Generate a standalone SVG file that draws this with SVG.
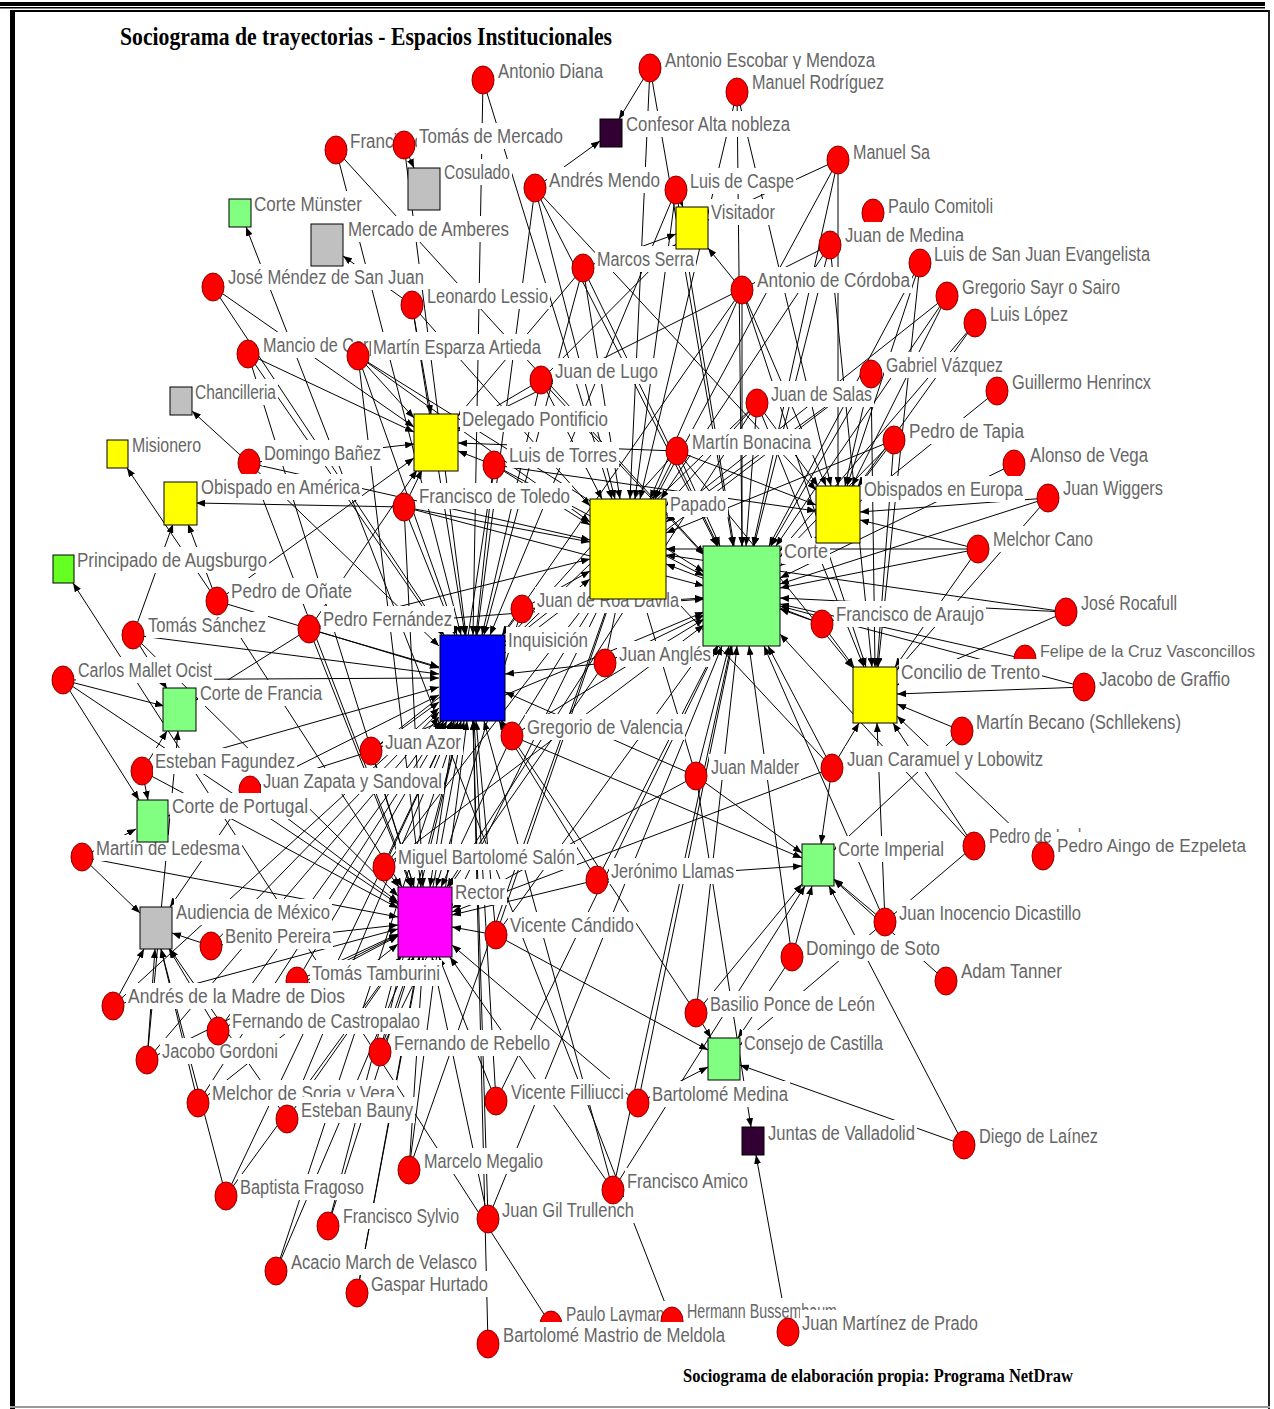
<svg xmlns="http://www.w3.org/2000/svg" width="1274" height="1409" viewBox="0 0 1274 1409">
<style>
.p{fill:#ff0000;stroke:#8b0000;stroke-width:1}
.lb{fill:#fff}
.t{font-family:"Liberation Sans",Arial,sans-serif;font-size:20px;fill:#666}
.sq{stroke:#000;stroke-width:1}
.e path{stroke:#000;stroke-width:1;fill:none;marker-end:url(#ah)}
.hd{font-family:"Liberation Serif","Times New Roman",serif;font-weight:bold;fill:#000}
</style>
<defs>
<marker id="ah" markerUnits="userSpaceOnUse" markerWidth="9" markerHeight="7" refX="9" refY="3.5" orient="auto"><path d="M0,0 L9,3.5 L0,7 Z" fill="#000"/></marker>
</defs>
<rect width="1274" height="1409" fill="#fff"/>
<g id="frame">
<rect x="0" y="2" width="1265" height="4" fill="#000"/>
<rect x="0" y="7" width="1265" height="1.5" fill="#000"/>
<rect x="10" y="10" width="5" height="1399" fill="#000"/>
<rect x="10" y="10" width="1260" height="2" fill="#000"/>
<rect x="1268" y="10" width="2" height="1399" fill="#222"/>
<rect x="10" y="1406" width="1260" height="2" fill="#999"/>
</g>
<text class="hd" x="120" y="45" font-size="26" textLength="492" lengthAdjust="spacingAndGlyphs">Sociograma de trayectorias - Espacios Institucionales</text>
<text class="hd" x="683" y="1382" font-size="18" textLength="390" lengthAdjust="spacingAndGlyphs">Sociograma de elaboración propia: Programa NetDraw</text>
<g id="edges" class="e">
<path d="M483 80L612 499"/><path d="M650 68L619 119"/><path d="M650 68L733 546"/><path d="M737 92L640 499"/><path d="M737 92L742 546"/>
<path d="M336 150L704 554"/><path d="M336 150L461 635"/><path d="M404 145L414 168"/><path d="M404 145L466 635"/>
<path d="M535 188L600 141"/><path d="M535 188L477 635"/><path d="M535 188L717 546"/><path d="M535 188L816 490"/>
<path d="M676 190L683 207"/><path d="M676 190L635 499"/><path d="M676 190L734 546"/>
<path d="M838 160L708 220"/><path d="M838 160L655 499"/><path d="M830 245L754 546"/><path d="M830 245L458 431"/>
<path d="M742 290L708 248"/><path d="M742 290L742 546"/><path d="M742 290L650 499"/>
<path d="M920 263L847 486"/><path d="M920 263L769 546"/><path d="M947 296L666 519"/><path d="M947 296L776 546"/><path d="M975 323L780 551"/>
<path d="M583 268L676 234"/><path d="M583 268L484 635"/><path d="M583 268L620 499"/><path d="M583 268L718 546"/>
<path d="M412 305L343 256"/><path d="M412 305L465 635"/><path d="M412 305L431 414"/><path d="M213 287L444 635"/>
<path d="M248 354L442 635"/><path d="M248 354L414 887"/>
<path d="M358 356L414 418"/><path d="M358 356L457 635"/><path d="M358 356L590 522"/><path d="M358 356L704 572"/>
<path d="M541 380L458 429"/><path d="M541 380L602 499"/><path d="M541 380L676 244"/><path d="M541 380L482 635"/>
<path d="M249 463L192 411"/><path d="M249 463L414 444"/><path d="M249 463L439 646"/><path d="M249 463L590 540"/>
<path d="M404 507L196 503"/><path d="M404 507L590 542"/><path d="M404 507L455 635"/><path d="M404 507L704 586"/><path d="M404 507L423 887"/>
<path d="M494 465L458 451"/><path d="M494 465L590 525"/><path d="M494 465L476 635"/><path d="M494 465L704 576"/><path d="M494 465L430 887"/>
<path d="M757 403L666 506"/><path d="M757 403L746 546"/><path d="M757 403L818 486"/><path d="M757 403L505 646"/>
<path d="M677 451L458 443"/><path d="M677 451L816 505"/><path d="M677 451L720 546"/><path d="M677 451L653 499"/><path d="M677 451L505 642"/>
<path d="M871 374L771 546"/><path d="M871 374L666 522"/><path d="M871 374L845 486"/><path d="M871 374L505 653"/>
<path d="M997 391L780 566"/><path d="M894 440L859 486"/><path d="M894 440L780 557"/><path d="M894 440L666 533"/>
<path d="M1014 464L780 578"/><path d="M1048 498L780 584"/><path d="M1048 498L860 512"/>
<path d="M978 549L780 588"/><path d="M978 549L666 549"/><path d="M978 549L860 520"/>
<path d="M1066 612L780 598"/><path d="M1066 612L897 685"/><path d="M1025 659L780 604"/>
<path d="M822 624L780 609"/><path d="M822 624L854 667"/><path d="M1084 687L897 694"/><path d="M1084 687L780 606"/>
<path d="M962 731L897 704"/><path d="M962 731L834 850"/>
<path d="M832 768L859 723"/><path d="M832 768L768 646"/><path d="M832 768L821 844"/><path d="M832 768L452 912"/>
<path d="M974 846L893 723"/><path d="M974 846L740 1045"/><path d="M1043 856L897 716"/>
<path d="M885 922L834 879"/><path d="M885 922L764 646"/><path d="M792 957L812 886"/><path d="M792 957L749 646"/>
<path d="M946 981L834 880"/><path d="M964 1145L829 886"/>
<path d="M696 1013L711 1038"/><path d="M696 1013L737 646"/><path d="M696 1013L802 884"/>
<path d="M638 1103L708 1067"/><path d="M638 1103L732 646"/><path d="M788 1332L756 1155"/>
<path d="M696 776L643 599"/><path d="M696 776L452 908"/><path d="M696 776L751 1127"/><path d="M696 776L729 646"/><path d="M696 776L505 692"/>
<path d="M605 663L505 674"/><path d="M605 663L618 599"/><path d="M605 663L704 615"/>
<path d="M522 609L590 571"/><path d="M522 609L503 635"/><path d="M522 609L704 598"/>
<path d="M512 736L502 721"/><path d="M512 736L597 599"/><path d="M512 736L704 619"/><path d="M512 736L441 887"/>
<path d="M371 751L439 702"/><path d="M371 751L414 887"/><path d="M371 751L168 816"/><path d="M371 751L590 579"/>
<path d="M597 880L717 646"/><path d="M597 880L499 721"/><path d="M597 880L452 915"/>
<path d="M496 935L452 927"/><path d="M496 935L476 721"/><path d="M496 935L706 646"/><path d="M496 935L611 599"/>
<path d="M384 867L399 887"/><path d="M384 867L452 721"/><path d="M384 867L590 599"/>
<path d="M217 601L188 524"/><path d="M217 601L127 468"/><path d="M217 601L439 668"/><path d="M217 601L414 458"/>
<path d="M133 635L173 524"/><path d="M133 635L167 689"/><path d="M133 635L398 896"/>
<path d="M309 629L439 667"/><path d="M309 629L196 700"/><path d="M309 629L590 559"/><path d="M309 629L417 470"/><path d="M309 629L411 887"/>
<path d="M63 680L164 706"/><path d="M63 680L139 800"/><path d="M63 680L439 678"/><path d="M63 680L398 904"/>
<path d="M142 771L148 800"/><path d="M142 771L167 731"/><path d="M142 771L439 687"/>
<path d="M250 790L398 902"/><path d="M250 790L170 907"/><path d="M250 790L439 695"/>
<path d="M82 857L136 829"/><path d="M82 857L140 913"/>
<path d="M211 946L398 925"/><path d="M211 946L439 712"/><path d="M297 981L398 934"/><path d="M297 981L447 721"/>
<path d="M113 1006L144 949"/><path d="M113 1006L398 929"/><path d="M218 1031L398 936"/><path d="M218 1031L169 949"/>
<path d="M147 1060L155 949"/><path d="M147 1060L178 731"/><path d="M147 1060L398 935"/>
<path d="M198 1103L161 949"/><path d="M198 1103L398 944"/><path d="M287 1119L401 957"/><path d="M287 1119L454 721"/>
<path d="M380 1052L413 957"/><path d="M380 1052L461 721"/><path d="M496 1101L439 957"/><path d="M496 1101L474 721"/>
<path d="M226 1196L452 721"/><path d="M226 1196L400 957"/><path d="M409 1170L423 957"/><path d="M409 1170L467 721"/>
<path d="M613 1190L450 957"/><path d="M613 1190L805 886"/><path d="M613 1190L484 721"/>
<path d="M328 1226L414 957"/><path d="M328 1226L461 721"/><path d="M488 1219L432 957"/><path d="M488 1219L473 721"/>
<path d="M276 1271L410 957"/><path d="M357 1293L419 957"/>
<path d="M551 1325L73 583"/><path d="M672 1321L246 227"/><path d="M488 1344L473 721"/>
<path d="M483 80L473 635"/><path d="M650 68L630 499"/><path d="M737 92L831 486"/><path d="M676 190L490 635"/>
<path d="M838 160L753 546"/><path d="M838 160L838 486"/><path d="M742 290L826 486"/><path d="M742 290L502 635"/><path d="M742 290L866 667"/>
<path d="M830 245L661 499"/><path d="M830 245L872 667"/><path d="M920 263L878 667"/><path d="M947 296L852 486"/><path d="M975 323L858 486"/>
<path d="M757 403L447 887"/><path d="M757 403L864 667"/><path d="M677 451L853 668"/><path d="M871 374L875 667"/><path d="M894 440L877 667"/>
<path d="M605 663L449 887"/><path d="M522 609L436 887"/><path d="M512 736L802 858"/><path d="M696 776L802 853"/><path d="M597 880L802 866"/>
<path d="M496 935L708 1050"/><path d="M384 867L704 625"/><path d="M217 601L402 887"/><path d="M133 635L439 674"/><path d="M309 629L704 599"/>
<path d="M142 771L398 908"/><path d="M82 857L398 917"/><path d="M211 946L172 933"/><path d="M113 1006L439 708"/><path d="M147 1060L439 717"/>
<path d="M198 1103L444 721"/><path d="M218 1031L441 721"/><path d="M287 1119L170 949"/><path d="M380 1052L603 599"/><path d="M496 1101L718 646"/>
<path d="M409 1170L610 599"/><path d="M276 1271L458 721"/><path d="M357 1293L464 721"/><path d="M488 1219L722 646"/><path d="M226 1196L161 949"/>
<path d="M371 751L704 612"/><path d="M404 507L422 470"/><path d="M358 356L421 887"/><path d="M412 305L590 506"/><path d="M213 287L414 427"/>
<path d="M248 354L414 432"/><path d="M249 463L412 887"/><path d="M535 188L615 499"/><path d="M583 268L458 416"/><path d="M541 380L704 555"/>
<path d="M494 465L816 511"/><path d="M1048 498L897 670"/><path d="M978 549L895 667"/><path d="M822 624L666 564"/><path d="M1066 612L666 555"/>
<path d="M832 768L666 590"/><path d="M974 846L780 634"/><path d="M885 922L877 723"/><path d="M792 957L738 1038"/><path d="M696 1013L501 721"/>
<path d="M638 1103L452 945"/><path d="M613 1190L731 646"/><path d="M964 1145L740 1065"/>
</g>
<g id="persons">
<g id="n-antonio-diana"><ellipse class="p" cx="483" cy="80" rx="11" ry="14"/><rect class="lb" x="496" y="58" width="109" height="26"/><text class="t" x="498" y="78" textLength="105" lengthAdjust="spacingAndGlyphs">Antonio Diana</text></g>
<g id="n-antonio-escobar"><ellipse class="p" cx="650" cy="68" rx="11" ry="14"/><rect class="lb" x="663" y="47" width="214" height="26"/><text class="t" x="665" y="67" textLength="210" lengthAdjust="spacingAndGlyphs">Antonio Escobar y Mendoza</text></g>
<g id="n-manuel-rodriguez"><ellipse class="p" cx="737" cy="92" rx="11" ry="14"/><rect class="lb" x="750" y="69" width="136" height="26"/><text class="t" x="752" y="89" textLength="132" lengthAdjust="spacingAndGlyphs">Manuel Rodríguez</text></g>
<g id="n-francisco-vitoria"><ellipse class="p" cx="336" cy="150" rx="11" ry="14"/><rect class="lb" x="348" y="128" width="154" height="26"/><text class="t" x="350" y="148" textLength="150" lengthAdjust="spacingAndGlyphs">Francisco de Vitoria</text></g>
<g id="n-tomas-mercado"><ellipse class="p" cx="404" cy="145" rx="11" ry="14"/><rect class="lb" x="417" y="123" width="148" height="26"/><text class="t" x="419" y="143" textLength="144" lengthAdjust="spacingAndGlyphs">Tomás de Mercado</text></g>
<g id="n-andres-mendo"><ellipse class="p" cx="535" cy="188" rx="11" ry="14"/><rect class="lb" x="547" y="167" width="115" height="26"/><text class="t" x="549" y="187" textLength="111" lengthAdjust="spacingAndGlyphs">Andrés Mendo</text></g>
<g id="n-luis-caspe"><ellipse class="p" cx="676" cy="190" rx="11" ry="14"/><rect class="lb" x="688" y="168" width="108" height="26"/><text class="t" x="690" y="188" textLength="104" lengthAdjust="spacingAndGlyphs">Luis de Caspe</text></g>
<g id="n-manuel-sa"><ellipse class="p" cx="838" cy="160" rx="11" ry="14"/><rect class="lb" x="851" y="139" width="81" height="26"/><text class="t" x="853" y="159" textLength="77" lengthAdjust="spacingAndGlyphs">Manuel Sa</text></g>
<g id="n-paulo-comitoli"><ellipse class="p" cx="873" cy="213" rx="11" ry="14"/><rect class="lb" x="886" y="193" width="109" height="26"/><text class="t" x="888" y="213" textLength="105" lengthAdjust="spacingAndGlyphs">Paulo Comitoli</text></g>
<g id="n-juan-medina"><ellipse class="p" cx="830" cy="245" rx="11" ry="14"/><rect class="lb" x="843" y="222" width="123" height="26"/><text class="t" x="845" y="242" textLength="119" lengthAdjust="spacingAndGlyphs">Juan de Medina</text></g>
<g id="n-antonio-cordoba"><ellipse class="p" cx="742" cy="290" rx="11" ry="14"/><rect class="lb" x="755" y="267" width="157" height="26"/><text class="t" x="757" y="287" textLength="153" lengthAdjust="spacingAndGlyphs">Antonio de Córdoba</text></g>
<g id="n-luis-san-juan"><ellipse class="p" cx="920" cy="263" rx="11" ry="14"/><rect class="lb" x="932" y="241" width="220" height="26"/><text class="t" x="934" y="261" textLength="216" lengthAdjust="spacingAndGlyphs">Luis de San Juan Evangelista</text></g>
<g id="n-gregorio-sayr"><ellipse class="p" cx="947" cy="296" rx="11" ry="14"/><rect class="lb" x="960" y="274" width="162" height="26"/><text class="t" x="962" y="294" textLength="158" lengthAdjust="spacingAndGlyphs">Gregorio Sayr o Sairo</text></g>
<g id="n-luis-lopez"><ellipse class="p" cx="975" cy="323" rx="11" ry="14"/><rect class="lb" x="988" y="301" width="82" height="26"/><text class="t" x="990" y="321" textLength="78" lengthAdjust="spacingAndGlyphs">Luis López</text></g>
<g id="n-marcos-serra"><ellipse class="p" cx="583" cy="268" rx="11" ry="14"/><rect class="lb" x="595" y="246" width="101" height="26"/><text class="t" x="597" y="266" textLength="97" lengthAdjust="spacingAndGlyphs">Marcos Serra</text></g>
<g id="n-leonardo-lessio"><ellipse class="p" cx="412" cy="305" rx="11" ry="14"/><rect class="lb" x="425" y="283" width="125" height="26"/><text class="t" x="427" y="303" textLength="121" lengthAdjust="spacingAndGlyphs">Leonardo Lessio</text></g>
<g id="n-jose-mendez"><ellipse class="p" cx="213" cy="287" rx="11" ry="14"/><rect class="lb" x="226" y="264" width="200" height="26"/><text class="t" x="228" y="284" textLength="196" lengthAdjust="spacingAndGlyphs">José Méndez de San Juan</text></g>
<g id="n-mancio"><ellipse class="p" cx="248" cy="354" rx="11" ry="14"/><rect class="lb" x="261" y="332" width="186" height="26"/><text class="t" x="263" y="352" textLength="182" lengthAdjust="spacingAndGlyphs">Mancio de Corpus Christi</text></g>
<g id="n-martin-esparza"><ellipse class="p" cx="358" cy="356" rx="11" ry="14"/><rect class="lb" x="371" y="334" width="172" height="26"/><text class="t" x="373" y="354" textLength="168" lengthAdjust="spacingAndGlyphs">Martín Esparza Artieda</text></g>
<g id="n-juan-lugo"><ellipse class="p" cx="541" cy="380" rx="11" ry="14"/><rect class="lb" x="553" y="358" width="107" height="26"/><text class="t" x="555" y="378" textLength="103" lengthAdjust="spacingAndGlyphs">Juan de Lugo</text></g>
<g id="n-domingo-banez"><ellipse class="p" cx="249" cy="463" rx="11" ry="14"/><rect class="lb" x="262" y="440" width="121" height="26"/><text class="t" x="264" y="460" textLength="117" lengthAdjust="spacingAndGlyphs">Domingo Bañez</text></g>
<g id="n-francisco-toledo"><ellipse class="p" cx="404" cy="507" rx="11" ry="14"/><rect class="lb" x="417" y="483" width="155" height="26"/><text class="t" x="419" y="503" textLength="151" lengthAdjust="spacingAndGlyphs">Francisco de Toledo</text></g>
<g id="n-luis-torres"><ellipse class="p" cx="494" cy="465" rx="11" ry="14"/><rect class="lb" x="507" y="442" width="112" height="26"/><text class="t" x="509" y="462" textLength="108" lengthAdjust="spacingAndGlyphs">Luis de Torres</text></g>
<g id="n-juan-salas"><ellipse class="p" cx="757" cy="403" rx="11" ry="14"/><rect class="lb" x="769" y="381" width="105" height="26"/><text class="t" x="771" y="401" textLength="101" lengthAdjust="spacingAndGlyphs">Juan de Salas</text></g>
<g id="n-martin-bonacina"><ellipse class="p" cx="677" cy="451" rx="11" ry="14"/><rect class="lb" x="690" y="429" width="123" height="26"/><text class="t" x="692" y="449" textLength="119" lengthAdjust="spacingAndGlyphs">Martín Bonacina</text></g>
<g id="n-gabriel-vazquez"><ellipse class="p" cx="871" cy="374" rx="11" ry="14"/><rect class="lb" x="884" y="352" width="121" height="26"/><text class="t" x="886" y="372" textLength="117" lengthAdjust="spacingAndGlyphs">Gabriel Vázquez</text></g>
<g id="n-guillermo"><ellipse class="p" cx="997" cy="391" rx="11" ry="14"/><rect class="lb" x="1010" y="369" width="143" height="26"/><text class="t" x="1012" y="389" textLength="139" lengthAdjust="spacingAndGlyphs">Guillermo Henrincx</text></g>
<g id="n-pedro-tapia"><ellipse class="p" cx="894" cy="440" rx="11" ry="14"/><rect class="lb" x="907" y="418" width="119" height="26"/><text class="t" x="909" y="438" textLength="115" lengthAdjust="spacingAndGlyphs">Pedro de Tapia</text></g>
<g id="n-alonso-vega"><ellipse class="p" cx="1014" cy="464" rx="11" ry="14"/><rect class="lb" x="1028" y="442" width="122" height="26"/><text class="t" x="1030" y="462" textLength="118" lengthAdjust="spacingAndGlyphs">Alonso de Vega</text></g>
<g id="n-juan-wiggers"><ellipse class="p" cx="1048" cy="498" rx="11" ry="14"/><rect class="lb" x="1061" y="475" width="104" height="26"/><text class="t" x="1063" y="495" textLength="100" lengthAdjust="spacingAndGlyphs">Juan Wiggers</text></g>
<g id="n-melchor-cano"><ellipse class="p" cx="978" cy="549" rx="11" ry="14"/><rect class="lb" x="991" y="526" width="104" height="26"/><text class="t" x="993" y="546" textLength="100" lengthAdjust="spacingAndGlyphs">Melchor Cano</text></g>
<g id="n-jose-rocafull"><ellipse class="p" cx="1066" cy="612" rx="11" ry="14"/><rect class="lb" x="1079" y="590" width="100" height="26"/><text class="t" x="1081" y="610" textLength="96" lengthAdjust="spacingAndGlyphs">José Rocafull</text></g>
<g id="n-felipe"><ellipse class="p" cx="1025" cy="659" rx="11" ry="14"/><rect class="lb" x="1038" y="637" width="219" height="26"/><text class="t" x="1040" y="657" style="font-size:16px" textLength="215" lengthAdjust="spacingAndGlyphs">Felipe de la Cruz Vasconcillos</text></g>
<g id="n-francisco-araujo"><ellipse class="p" cx="822" cy="624" rx="11" ry="14"/><rect class="lb" x="834" y="601" width="152" height="26"/><text class="t" x="836" y="621" textLength="148" lengthAdjust="spacingAndGlyphs">Francisco de Araujo</text></g>
<g id="n-jacobo-graffio"><ellipse class="p" cx="1084" cy="687" rx="11" ry="14"/><rect class="lb" x="1097" y="666" width="135" height="26"/><text class="t" x="1099" y="686" textLength="131" lengthAdjust="spacingAndGlyphs">Jacobo de Graffio</text></g>
<g id="n-martin-becano"><ellipse class="p" cx="962" cy="731" rx="11" ry="14"/><rect class="lb" x="974" y="709" width="209" height="26"/><text class="t" x="976" y="729" textLength="205" lengthAdjust="spacingAndGlyphs">Martín Becano (Schllekens)</text></g>
<g id="n-juan-caramuel"><ellipse class="p" cx="832" cy="768" rx="11" ry="14"/><rect class="lb" x="845" y="746" width="200" height="26"/><text class="t" x="847" y="766" textLength="196" lengthAdjust="spacingAndGlyphs">Juan Caramuel y Lobowitz</text></g>
<g id="n-pedro-ledesma"><ellipse class="p" cx="974" cy="846" rx="11" ry="14"/><rect class="lb" x="987" y="823" width="134" height="26"/><text class="t" x="989" y="843" textLength="130" lengthAdjust="spacingAndGlyphs">Pedro de Ledesma</text></g>
<g id="n-pedro-aingo"><ellipse class="p" cx="1043" cy="856" rx="11" ry="14"/><rect class="lb" x="1055" y="832" width="193" height="26"/><text class="t" x="1057" y="852" style="font-size:17.5px" textLength="189" lengthAdjust="spacingAndGlyphs">Pedro Aingo de Ezpeleta</text></g>
<g id="n-domingo-soto"><ellipse class="p" cx="792" cy="957" rx="11" ry="14"/><rect class="lb" x="804" y="935" width="138" height="26"/><text class="t" x="806" y="955" textLength="134" lengthAdjust="spacingAndGlyphs">Domingo de Soto</text></g>
<g id="n-juan-inocencio"><ellipse class="p" cx="885" cy="922" rx="11" ry="14"/><rect class="lb" x="897" y="900" width="186" height="26"/><text class="t" x="899" y="920" textLength="182" lengthAdjust="spacingAndGlyphs">Juan Inocencio Dicastillo</text></g>
<g id="n-adam-tanner"><ellipse class="p" cx="946" cy="981" rx="11" ry="14"/><rect class="lb" x="959" y="958" width="105" height="26"/><text class="t" x="961" y="978" textLength="101" lengthAdjust="spacingAndGlyphs">Adam Tanner</text></g>
<g id="n-diego-lainez"><ellipse class="p" cx="964" cy="1145" rx="11" ry="14"/><rect class="lb" x="977" y="1123" width="123" height="26"/><text class="t" x="979" y="1143" textLength="119" lengthAdjust="spacingAndGlyphs">Diego de Laínez</text></g>
<g id="n-basilio-ponce"><ellipse class="p" cx="696" cy="1013" rx="11" ry="14"/><rect class="lb" x="708" y="991" width="169" height="26"/><text class="t" x="710" y="1011" textLength="165" lengthAdjust="spacingAndGlyphs">Basilio Ponce de León</text></g>
<g id="n-bartolome-medina"><ellipse class="p" cx="638" cy="1103" rx="11" ry="14"/><rect class="lb" x="650" y="1081" width="140" height="26"/><text class="t" x="652" y="1101" textLength="136" lengthAdjust="spacingAndGlyphs">Bartolomé Medina</text></g>
<g id="n-paulo-laymann"><ellipse class="p" cx="551" cy="1325" rx="11" ry="14"/><rect class="lb" x="564" y="1301" width="111" height="26"/><text class="t" x="566" y="1321" textLength="107" lengthAdjust="spacingAndGlyphs">Paulo Laymann</text></g>
<g id="n-hermann"><ellipse class="p" cx="672" cy="1321" rx="11" ry="14"/><rect class="lb" x="685" y="1298" width="154" height="26"/><text class="t" x="687" y="1318" textLength="150" lengthAdjust="spacingAndGlyphs">Hermann Bussembaum</text></g>
<g id="n-juan-martinez-prado"><ellipse class="p" cx="788" cy="1332" rx="11" ry="14"/><rect class="lb" x="800" y="1310" width="180" height="26"/><text class="t" x="802" y="1330" textLength="176" lengthAdjust="spacingAndGlyphs">Juan Martínez de Prado</text></g>
<g id="n-juan-malder"><ellipse class="p" cx="696" cy="776" rx="11" ry="14"/><rect class="lb" x="709" y="754" width="92" height="26"/><text class="t" x="711" y="774" textLength="88" lengthAdjust="spacingAndGlyphs">Juan Malder</text></g>
<g id="n-juan-angles"><ellipse class="p" cx="605" cy="663" rx="11" ry="14"/><rect class="lb" x="617" y="641" width="96" height="26"/><text class="t" x="619" y="661" textLength="92" lengthAdjust="spacingAndGlyphs">Juan Anglés</text></g>
<g id="n-juan-roa"><ellipse class="p" cx="522" cy="609" rx="11" ry="14"/><rect class="lb" x="535" y="587" width="146" height="26"/><text class="t" x="537" y="607" textLength="142" lengthAdjust="spacingAndGlyphs">Juan de Roa Dávila</text></g>
<g id="n-gregorio-valencia"><ellipse class="p" cx="512" cy="736" rx="11" ry="14"/><rect class="lb" x="525" y="714" width="160" height="26"/><text class="t" x="527" y="734" textLength="156" lengthAdjust="spacingAndGlyphs">Gregorio de Valencia</text></g>
<g id="n-juan-azor"><ellipse class="p" cx="371" cy="751" rx="11" ry="14"/><rect class="lb" x="383" y="729" width="80" height="26"/><text class="t" x="385" y="749" textLength="76" lengthAdjust="spacingAndGlyphs">Juan Azor</text></g>
<g id="n-jeronimo-llamas"><ellipse class="p" cx="597" cy="880" rx="11" ry="14"/><rect class="lb" x="609" y="858" width="127" height="26"/><text class="t" x="611" y="878" textLength="123" lengthAdjust="spacingAndGlyphs">Jerónimo Llamas</text></g>
<g id="n-vicente-candido"><ellipse class="p" cx="496" cy="935" rx="11" ry="14"/><rect class="lb" x="508" y="912" width="128" height="26"/><text class="t" x="510" y="932" textLength="124" lengthAdjust="spacingAndGlyphs">Vicente Cándido</text></g>
<g id="n-miguel-salon"><ellipse class="p" cx="384" cy="867" rx="11" ry="14"/><rect class="lb" x="396" y="844" width="181" height="26"/><text class="t" x="398" y="864" textLength="177" lengthAdjust="spacingAndGlyphs">Miguel Bartolomé Salón</text></g>
<g id="n-tomas-sanchez"><ellipse class="p" cx="133" cy="635" rx="11" ry="14"/><rect class="lb" x="146" y="612" width="122" height="26"/><text class="t" x="148" y="632" textLength="118" lengthAdjust="spacingAndGlyphs">Tomás Sánchez</text></g>
<g id="n-pedro-onate"><ellipse class="p" cx="217" cy="601" rx="11" ry="14"/><rect class="lb" x="229" y="578" width="125" height="26"/><text class="t" x="231" y="598" textLength="121" lengthAdjust="spacingAndGlyphs">Pedro de Oñate</text></g>
<g id="n-pedro-fernandez"><ellipse class="p" cx="309" cy="629" rx="11" ry="14"/><rect class="lb" x="321" y="606" width="133" height="26"/><text class="t" x="323" y="626" textLength="129" lengthAdjust="spacingAndGlyphs">Pedro Fernández</text></g>
<g id="n-carlos-mallet"><ellipse class="p" cx="63" cy="680" rx="11" ry="14"/><rect class="lb" x="76" y="657" width="138" height="26"/><text class="t" x="78" y="677" textLength="134" lengthAdjust="spacingAndGlyphs">Carlos Mallet Ocist</text></g>
<g id="n-esteban-fagundez"><ellipse class="p" cx="142" cy="771" rx="11" ry="14"/><rect class="lb" x="153" y="748" width="144" height="26"/><text class="t" x="155" y="768" textLength="140" lengthAdjust="spacingAndGlyphs">Esteban Fagundez</text></g>
<g id="n-juan-zapata"><ellipse class="p" cx="250" cy="790" rx="11" ry="14"/><rect class="lb" x="261" y="768" width="183" height="26"/><text class="t" x="263" y="788" textLength="179" lengthAdjust="spacingAndGlyphs">Juan Zapata y Sandoval</text></g>
<g id="n-martin-ledesma"><ellipse class="p" cx="82" cy="857" rx="11" ry="14"/><rect class="lb" x="94" y="835" width="148" height="26"/><text class="t" x="96" y="855" textLength="144" lengthAdjust="spacingAndGlyphs">Martín de Ledesma</text></g>
<g id="n-benito-pereira"><ellipse class="p" cx="211" cy="946" rx="11" ry="14"/><rect class="lb" x="223" y="923" width="110" height="26"/><text class="t" x="225" y="943" textLength="106" lengthAdjust="spacingAndGlyphs">Benito Pereira</text></g>
<g id="n-tomas-tamburini"><ellipse class="p" cx="297" cy="981" rx="11" ry="14"/><rect class="lb" x="310" y="960" width="132" height="26"/><text class="t" x="312" y="980" textLength="128" lengthAdjust="spacingAndGlyphs">Tomás Tamburini</text></g>
<g id="n-andres-madre"><ellipse class="p" cx="113" cy="1006" rx="11" ry="14"/><rect class="lb" x="126" y="983" width="221" height="26"/><text class="t" x="128" y="1003" textLength="217" lengthAdjust="spacingAndGlyphs">Andrés de la Madre de Dios</text></g>
<g id="n-jacobo-gordoni"><ellipse class="p" cx="147" cy="1060" rx="11" ry="14"/><rect class="lb" x="160" y="1038" width="120" height="26"/><text class="t" x="162" y="1058" textLength="116" lengthAdjust="spacingAndGlyphs">Jacobo Gordoni</text></g>
<g id="n-fernando-castropalao"><ellipse class="p" cx="218" cy="1031" rx="11" ry="14"/><rect class="lb" x="230" y="1008" width="192" height="26"/><text class="t" x="232" y="1028" textLength="188" lengthAdjust="spacingAndGlyphs">Fernando de Castropalao</text></g>
<g id="n-melchor-soria"><ellipse class="p" cx="198" cy="1103" rx="11" ry="14"/><rect class="lb" x="210" y="1080" width="187" height="26"/><text class="t" x="212" y="1100" textLength="183" lengthAdjust="spacingAndGlyphs">Melchor de Soria y Vera</text></g>
<g id="n-esteban-bauny"><ellipse class="p" cx="287" cy="1119" rx="11" ry="14"/><rect class="lb" x="299" y="1097" width="116" height="26"/><text class="t" x="301" y="1117" textLength="112" lengthAdjust="spacingAndGlyphs">Esteban Bauny</text></g>
<g id="n-fernando-rebello"><ellipse class="p" cx="380" cy="1052" rx="11" ry="14"/><rect class="lb" x="392" y="1030" width="160" height="26"/><text class="t" x="394" y="1050" textLength="156" lengthAdjust="spacingAndGlyphs">Fernando de Rebello</text></g>
<g id="n-vicente-filliucci"><ellipse class="p" cx="496" cy="1101" rx="11" ry="14"/><rect class="lb" x="509" y="1079" width="117" height="26"/><text class="t" x="511" y="1099" textLength="113" lengthAdjust="spacingAndGlyphs">Vicente Filliucci</text></g>
<g id="n-baptista-fragoso"><ellipse class="p" cx="226" cy="1196" rx="11" ry="14"/><rect class="lb" x="238" y="1174" width="128" height="26"/><text class="t" x="240" y="1194" textLength="124" lengthAdjust="spacingAndGlyphs">Baptista Fragoso</text></g>
<g id="n-marcelo-megalio"><ellipse class="p" cx="409" cy="1170" rx="11" ry="14"/><rect class="lb" x="422" y="1148" width="123" height="26"/><text class="t" x="424" y="1168" textLength="119" lengthAdjust="spacingAndGlyphs">Marcelo Megalio</text></g>
<g id="n-juan-gil"><ellipse class="p" cx="488" cy="1219" rx="11" ry="14"/><rect class="lb" x="500" y="1197" width="136" height="26"/><text class="t" x="502" y="1217" textLength="132" lengthAdjust="spacingAndGlyphs">Juan Gil Trullench</text></g>
<g id="n-francisco-amico"><ellipse class="p" cx="613" cy="1190" rx="11" ry="14"/><rect class="lb" x="625" y="1168" width="125" height="26"/><text class="t" x="627" y="1188" textLength="121" lengthAdjust="spacingAndGlyphs">Francisco Amico</text></g>
<g id="n-francisco-sylvio"><ellipse class="p" cx="328" cy="1226" rx="11" ry="14"/><rect class="lb" x="341" y="1203" width="120" height="26"/><text class="t" x="343" y="1223" textLength="116" lengthAdjust="spacingAndGlyphs">Francisco Sylvio</text></g>
<g id="n-acacio-march"><ellipse class="p" cx="276" cy="1271" rx="11" ry="14"/><rect class="lb" x="289" y="1249" width="190" height="26"/><text class="t" x="291" y="1269" textLength="186" lengthAdjust="spacingAndGlyphs">Acacio March de Velasco</text></g>
<g id="n-gaspar-hurtado"><ellipse class="p" cx="357" cy="1293" rx="11" ry="14"/><rect class="lb" x="369" y="1271" width="121" height="26"/><text class="t" x="371" y="1291" textLength="117" lengthAdjust="spacingAndGlyphs">Gaspar Hurtado</text></g>
<g id="n-bartolome-mastrio"><ellipse class="p" cx="488" cy="1344" rx="11" ry="14"/><rect class="lb" x="501" y="1322" width="226" height="26"/><text class="t" x="503" y="1342" textLength="222" lengthAdjust="spacingAndGlyphs">Bartolomé Mastrio de Meldola</text></g>
</g>
<g id="institutions">
<g id="n-papado"><rect class="sq" x="590" y="499" width="76" height="100" fill="#ffff00"/><rect class="lb" x="668" y="491" width="60" height="26"/><text class="t" x="670" y="511" textLength="56" lengthAdjust="spacingAndGlyphs">Papado</text></g>
<g id="n-corte"><rect class="sq" x="703" y="546" width="77" height="100" fill="#80ff80"/><rect class="lb" x="782" y="538" width="48" height="26"/><text class="t" x="784" y="558" textLength="44" lengthAdjust="spacingAndGlyphs">Corte</text></g>
<g id="n-inquisicion"><rect class="sq" x="440" y="635" width="65" height="86" fill="#0000ff"/><rect class="lb" x="506" y="627" width="84" height="26"/><text class="t" x="508" y="647" textLength="80" lengthAdjust="spacingAndGlyphs">Inquisición</text></g>
<g id="n-rector"><rect class="sq" x="398" y="887" width="54" height="70" fill="#ff00ff"/><rect class="lb" x="453" y="879" width="54" height="26"/><text class="t" x="455" y="899" textLength="50" lengthAdjust="spacingAndGlyphs">Rector</text></g>
<g id="n-delegado"><rect class="sq" x="414" y="414" width="44" height="57" fill="#ffff00"/><rect class="lb" x="460" y="406" width="150" height="26"/><text class="t" x="462" y="426" textLength="146" lengthAdjust="spacingAndGlyphs">Delegado Pontificio</text></g>
<g id="n-obispados-europa"><rect class="sq" x="816" y="486" width="44" height="57" fill="#ffff00"/><rect class="lb" x="862" y="476" width="163" height="26"/><text class="t" x="864" y="496" textLength="159" lengthAdjust="spacingAndGlyphs">Obispados en Europa</text></g>
<g id="n-concilio"><rect class="sq" x="853" y="667" width="44" height="56" fill="#ffff00"/><rect class="lb" x="899" y="659" width="143" height="26"/><text class="t" x="901" y="679" textLength="139" lengthAdjust="spacingAndGlyphs">Concilio de Trento</text></g>
<g id="n-visitador"><rect class="sq" x="676" y="207" width="32" height="42" fill="#ffff00"/><rect class="lb" x="709" y="199" width="68" height="26"/><text class="t" x="711" y="219" textLength="64" lengthAdjust="spacingAndGlyphs">Visitador</text></g>
<g id="n-obispado-america"><rect class="sq" x="164" y="482" width="33" height="43" fill="#ffff00"/><rect class="lb" x="199" y="474" width="163" height="26"/><text class="t" x="201" y="494" textLength="159" lengthAdjust="spacingAndGlyphs">Obispado en América</text></g>
<g id="n-corte-francia"><rect class="sq" x="163" y="688" width="33" height="43" fill="#80ff80"/><rect class="lb" x="198" y="680" width="126" height="26"/><text class="t" x="200" y="700" textLength="122" lengthAdjust="spacingAndGlyphs">Corte de Francia</text></g>
<g id="n-corte-portugal"><rect class="sq" x="137" y="800" width="31" height="42" fill="#80ff80"/><rect class="lb" x="170" y="793" width="140" height="26"/><text class="t" x="172" y="813" textLength="136" lengthAdjust="spacingAndGlyphs">Corte de Portugal</text></g>
<g id="n-audiencia"><rect class="sq" x="140" y="907" width="32" height="42" fill="#c0c0c0"/><rect class="lb" x="174" y="899" width="158" height="26"/><text class="t" x="176" y="919" textLength="154" lengthAdjust="spacingAndGlyphs">Audiencia de México</text></g>
<g id="n-corte-imperial"><rect class="sq" x="802" y="844" width="32" height="42" fill="#80ff80"/><rect class="lb" x="836" y="836" width="110" height="26"/><text class="t" x="838" y="856" textLength="106" lengthAdjust="spacingAndGlyphs">Corte Imperial</text></g>
<g id="n-consejo"><rect class="sq" x="708" y="1038" width="32" height="42" fill="#80ff80"/><rect class="lb" x="742" y="1030" width="143" height="26"/><text class="t" x="744" y="1050" textLength="139" lengthAdjust="spacingAndGlyphs">Consejo de Castilla</text></g>
<g id="n-cosulado"><rect class="sq" x="408" y="168" width="32" height="42" fill="#c0c0c0"/><rect class="lb" x="442" y="159" width="70" height="26"/><text class="t" x="444" y="179" textLength="66" lengthAdjust="spacingAndGlyphs">Cosulado</text></g>
<g id="n-mercado-amberes"><rect class="sq" x="311" y="224" width="32" height="42" fill="#c0c0c0"/><rect class="lb" x="346" y="216" width="165" height="26"/><text class="t" x="348" y="236" textLength="161" lengthAdjust="spacingAndGlyphs">Mercado de Amberes</text></g>
<g id="n-corte-munster"><rect class="sq" x="229" y="199" width="22" height="28" fill="#80ff80"/><rect class="lb" x="252" y="191" width="112" height="26"/><text class="t" x="254" y="211" textLength="108" lengthAdjust="spacingAndGlyphs">Corte Münster</text></g>
<g id="n-confesor"><rect class="sq" x="600" y="119" width="22" height="28" fill="#330033"/><rect class="lb" x="624" y="111" width="168" height="26"/><text class="t" x="626" y="131" textLength="164" lengthAdjust="spacingAndGlyphs">Confesor Alta nobleza</text></g>
<g id="n-chancilleria"><rect class="sq" x="170" y="387" width="22" height="28" fill="#c0c0c0"/><rect class="lb" x="193" y="379" width="85" height="26"/><text class="t" x="195" y="399" textLength="81" lengthAdjust="spacingAndGlyphs">Chancilleria</text></g>
<g id="n-misionero"><rect class="sq" x="107" y="440" width="21" height="28" fill="#ffff00"/><rect class="lb" x="130" y="432" width="73" height="26"/><text class="t" x="132" y="452" textLength="69" lengthAdjust="spacingAndGlyphs">Misionero</text></g>
<g id="n-principado"><rect class="sq" x="53" y="555" width="21" height="28" fill="#66ff22"/><rect class="lb" x="75" y="547" width="194" height="26"/><text class="t" x="77" y="567" textLength="190" lengthAdjust="spacingAndGlyphs">Principado de Augsburgo</text></g>
<g id="n-juntas"><rect class="sq" x="742" y="1127" width="22" height="28" fill="#330033"/><rect class="lb" x="766" y="1120" width="151" height="26"/><text class="t" x="768" y="1140" textLength="147" lengthAdjust="spacingAndGlyphs">Juntas de Valladolid</text></g>
</g>
</svg>
